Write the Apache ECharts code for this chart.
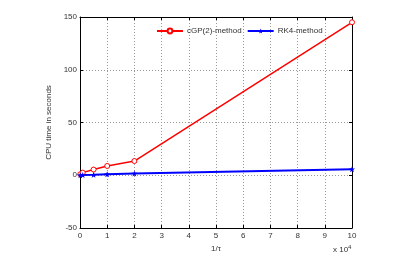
<!DOCTYPE html>
<html><head><meta charset="utf-8">
<script src="https://cdn.jsdelivr.net/npm/echarts@6/dist/echarts.min.js"></script>
<style>html,body{margin:0;padding:0;background:#fff}#c{width:400px;height:260px}</style>
</head><body><div id="c"></div>
<script>
const xVals = [0.01, 0.1, 0.5, 1, 2, 10];
const cgpVals = [1.0, 2.5, 5.4, 8.8, 13.5, 145];
const rk4Vals = [0.05, 0.2, 0.5, 1.0, 1.6, 5.7];
const xTicks = [0,1,2,3,4,5,6,7,8,9,10];
const yTicks = [-50,0,50,100,150];

const chart = echarts.init(document.getElementById('c'));
const font = 'Liberation Sans, Arial, sans-serif';
const star = 'path://M0,-10L2.5,-3.5L9.5,-3.1L4,1.4L5.9,8.1L0,4.3L-5.9,8.1L-4,1.4L-9.5,-3.1L-2.5,-3.5Z';
function ax(extra){return Object.assign({
  axisLine:{show:true,onZero:false,lineStyle:{color:'#000',width:1}},
  axisTick:{show:true,inside:true,length:3,lineStyle:{color:'#000'}},
  axisLabel:{color:'#333',fontSize:8,fontFamily:font,margin:4},
  splitLine:{show:false}
},extra);}
chart.setOption({
  animation:false,
  grid:{left:80,right:48,top:17,bottom:32,show:false},
  legend:{top:22,left:151,itemGap:5,itemWidth:26,itemHeight:6,
    textStyle:{fontSize:8,color:'#333',fontFamily:font,padding:[0,0,0,-1]},
    data:['cGP(2)-method','RK4-method']},
  xAxis:[
    ax({type:'value',min:0,max:10,interval:1,position:'bottom',
      name:'1/τ',nameLocation:'middle',nameGap:14,
      nameTextStyle:{fontSize:8,color:'#333',fontFamily:font},
      axisLabel:{color:'#333',fontSize:8,fontFamily:font,margin:4,
        formatter:v=>xTicks.includes(v)?String(v):''},
      splitLine:{show:true,lineStyle:{type:[1,2],color:'#999',width:1}}}),
    ax({type:'value',min:0,max:10,interval:1,position:'top',axisLabel:{show:false}})
  ],
  yAxis:[
    ax({type:'value',min:-50,max:150,interval:50,position:'left',
      name:'CPU time in seconds',nameLocation:'middle',nameGap:17,
      nameTextStyle:{fontSize:8,color:'#333',fontFamily:font},
      axisLabel:{color:'#333',fontSize:8,fontFamily:font,margin:3,
        formatter:v=>yTicks.includes(v)?String(v):''},
      splitLine:{show:true,lineStyle:{type:[1,2],color:'#999',width:1}}}),
    ax({type:'value',min:-50,max:150,interval:50,position:'right',axisLabel:{show:false}})
  ],
  graphic:[{type:'text',left:333,top:244,
    style:{text:'x 10{s|4}',rich:{s:{fontSize:6,verticalAlign:'top',padding:[0,0,6,0]}},
      fontSize:8,fill:'#333',fontFamily:font}}],
  series:[
    {name:'cGP(2)-method',type:'line',data:xVals.map((x,i)=>[x,cgpVals[i]]),
      symbol:'circle',symbolSize:5,showAllSymbol:true,
      lineStyle:{color:'#ff0000',width:1.5},
      itemStyle:{color:'#fff',borderColor:'#ff0000',borderWidth:1}},
    {name:'RK4-method',type:'line',data:xVals.map((x,i)=>[x,rk4Vals[i]]),
      symbol:star,symbolSize:6,showAllSymbol:true,
      lineStyle:{color:'#0000ff',width:2},
      itemStyle:{color:'#0000ff'}}
  ]
});
</script></body></html>
